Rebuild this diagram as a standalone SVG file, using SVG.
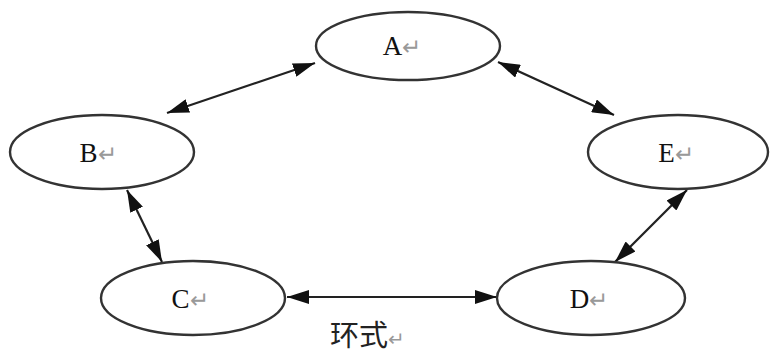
<svg xmlns="http://www.w3.org/2000/svg" width="771" height="356" viewBox="0 0 771 356">
<style>
.node ellipse{fill:#fff;stroke:#333;stroke-width:2.4}
.node text{font-family:"Liberation Serif","Noto Sans CJK SC",serif;font-size:27px;fill:#111;text-anchor:middle}
.ret{fill:#999;font-size:23px}
.conn line{stroke:#222;stroke-width:2.2;marker-start:url(#ah);marker-end:url(#ah)}
.cap{font-family:"Noto Sans CJK SC",sans-serif;font-size:29px;fill:#222}
</style>
<defs>
<marker id="ah" viewBox="0 0 22 14" refX="22" refY="7" markerWidth="22" markerHeight="14" markerUnits="userSpaceOnUse" orient="auto-start-reverse">
<path d="M0,0 L22,7 L0,14 Z" fill="#111"/>
</marker>
</defs>
<rect width="771" height="356" fill="#fff"/>
<g class="conn">
<line x1="167" y1="113" x2="315" y2="63"/>
<line x1="498" y1="62" x2="614" y2="115"/>
<line x1="127" y1="190" x2="162" y2="262"/>
<line x1="287" y1="297" x2="497" y2="297"/>
<line x1="615" y1="262" x2="687" y2="190"/>
</g>
<g id="A" class="node"><ellipse cx="408" cy="46" rx="92" ry="34"/><text x="402" y="55">A<tspan class="ret">↵</tspan></text></g>
<g id="B" class="node"><ellipse cx="102" cy="152" rx="92" ry="37"/><text x="98" y="162">B<tspan class="ret">↵</tspan></text></g>
<g id="E" class="node"><ellipse cx="678" cy="152" rx="90" ry="37"/><text x="676" y="162">E<tspan class="ret">↵</tspan></text></g>
<g id="C" class="node"><ellipse cx="193" cy="298" rx="92" ry="37"/><text x="190" y="308">C<tspan class="ret">↵</tspan></text></g>
<g id="D" class="node"><ellipse cx="591" cy="298" rx="94" ry="37"/><text x="589" y="308">D<tspan class="ret">↵</tspan></text></g>
<text class="cap" x="330" y="346">环式<tspan fill="#999" font-size="20">↵</tspan></text>
</svg>
